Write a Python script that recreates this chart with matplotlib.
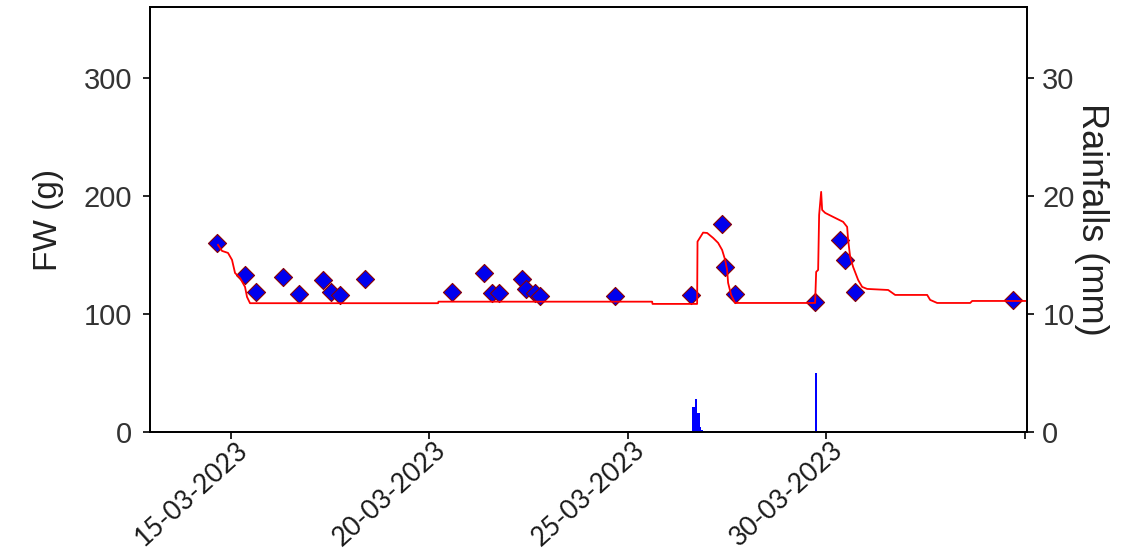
import matplotlib
matplotlib.use('Agg')
import matplotlib.pyplot as plt
import matplotlib.transforms as mtrans
import numpy as np
import pandas as pd

# data: times are given as day of March 2023 (fractional)
obs_day = [14.647, 15.353, 15.630, 16.311, 16.714, 17.319, 17.521, 17.748, 18.378,
           20.571, 21.378, 21.579, 21.756, 22.336, 22.436, 22.663, 22.789, 24.680,
           26.596, 27.377, 27.453, 27.705, 29.721, 30.352, 30.478, 30.730, 34.713]
obs_fw = [160, 133, 119, 131, 117, 129, 119, 116, 130,
          119, 135, 118, 118, 130, 121, 118, 115, 115,
          116, 176, 140, 117, 110, 163, 146, 119, 112]

model_day = [14.672, 14.773, 14.924, 15.025, 15.101, 15.227, 15.353, 15.403, 15.479,
             20.218, 20.228, 25.613, 25.623, 26.747, 26.757, 26.898, 26.999, 27.150,
             27.276, 27.377, 27.453, 27.503, 27.528, 27.604, 27.705, 29.721, 29.747,
             29.797, 29.822, 29.873, 29.898, 29.974, 30.175, 30.427, 30.528, 30.553,
             30.604, 30.679, 30.805, 30.906, 31.032, 31.562, 31.738, 32.545, 32.620,
             32.797, 33.629, 33.679, 35.066]
model_fw = [158.5, 153.4, 151.7, 145.8, 134.7, 130.5, 122.9, 114.4, 109.1,
            109.1, 110.4, 110.4, 108.5, 108.5, 161.3, 168.9, 168.6, 164.4,
            160.2, 154.2, 145.8, 137.3, 126.3, 116.1, 109.3, 109.3, 135.6,
            137.3, 183.9, 203.4, 188.1, 185.6, 182.2, 178.0, 173.7, 162.7,
            148.3, 139.8, 128.8, 122.9, 121.2, 120.3, 116.1, 116.1, 111.9,
            109.3, 109.3, 111.0, 111.0]

rain_day = [26.646, 26.684, 26.722, 26.760, 26.798, 26.836, 26.874, 29.739]
rain_mm = [2.1, 2.1, 2.8, 1.6, 1.6, 0.4, 0.2, 5.0]

base = pd.Timestamp('2023-03-01')
def to_date(days):
    return base + pd.to_timedelta(np.array(days) - 1, unit='D')

tick_dates = pd.to_datetime(['2023-03-15', '2023-03-20', '2023-03-25', '2023-03-30', '2023-04-04'])
tick_labels = ['15-03-2023', '20-03-2023', '25-03-2023', '30-03-2023', '']

plt.rcParams['font.family'] = ['Liberation Sans', 'DejaVu Sans']

fig = plt.figure(figsize=(11.33, 5.52), dpi=100)
ax = fig.add_axes([0.1324, 0.2174, 0.9065 - 0.1324, 0.9873 - 0.2174])
ax2 = ax.twinx()

ax.scatter(to_date(obs_day), obs_fw, marker='D', s=85, c='#0000ee',
           edgecolors='#8b0000', linewidths=0.8, zorder=2)
ax.plot(to_date(model_day), model_fw, c='#ff0000', lw=1.3, zorder=3)

ax2.bar(to_date(rain_day), rain_mm, width=1 / 24, color='#0000ff', align='center')

ax.set_xlim(pd.Timestamp('2023-03-12 23:00'), pd.Timestamp('2023-04-04 01:30'))
ax.set_ylim(0, 360)
ax2.set_ylim(0, 36)
ax.set_yticks([0, 100, 200, 300])
ax2.set_yticks([0, 10, 20, 30])

ax.tick_params(axis='y', labelsize=21, labelcolor='#333333', length=5, width=1.2,
               color='black', pad=8)
ax.tick_params(axis='x', length=5, width=1.2, color='black', pad=2)
ax2.tick_params(axis='y', labelsize=21, labelcolor='#333333', length=5, width=1.2,
                color='black', pad=6)

ax.set_xticks(tick_dates)
ax.set_xticklabels(tick_labels, rotation=42, ha='right', va='top',
                   rotation_mode='anchor', fontsize=19, family='Lato', color='#1a1a1a')
# nudge the date labels up/right a bit (after tick_params, which resets transforms)
shift = mtrans.ScaledTranslation(5 / 100, 5 / 100, fig.dpi_scale_trans)
for lab in ax.get_xticklabels():
    lab.set_transform(lab.get_transform() + shift)

for a in (ax, ax2):
    for s in a.spines.values():
        s.set_linewidth(1.3)
        s.set_color('black')

ax.set_ylabel('FW (g)', fontsize=24, color='#222222', labelpad=14)
ax2.set_ylabel('Rainfalls (mm)', fontsize=26, color='#222222', rotation=270, labelpad=25)

fig.savefig('out.png', dpi=100)
